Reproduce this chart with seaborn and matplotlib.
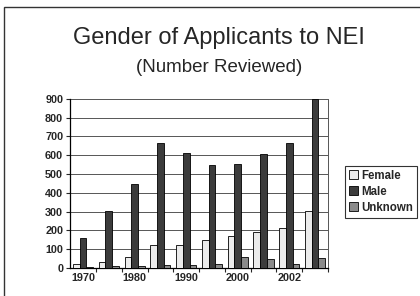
import matplotlib
matplotlib.use("Agg")
import matplotlib.pyplot as plt
import seaborn as sns
import pandas as pd
from matplotlib.patches import Rectangle, Patch

years = ["1970", "1975", "1980", "1985", "1990", "1995", "2000", "2001", "2002", "2003"]
tick_labels = ["1970", "", "1980", "", "1990", "", "2000", "", "2002", ""]
female = [20, 30, 60, 120, 120, 150, 170, 190, 210, 305]
male = [160, 305, 445, 665, 610, 550, 555, 605, 665, 900]
unknown = [5, 10, 10, 15, 15, 20, 60, 45, 20, 50]
series = ["Female", "Male", "Unknown"]
colors = ["#ebebeb", "#3c3c3c", "#8a8a8a"]

rows = []
for i, y in enumerate(years):
    rows.append((y, "Female", female[i]))
    rows.append((y, "Male", male[i]))
    rows.append((y, "Unknown", unknown[i]))
df = pd.DataFrame(rows, columns=["year", "gender", "count"])

sns.set_style("white")
plt.rcParams["font.family"] = ["Liberation Sans", "DejaVu Sans"]

fig = plt.figure(figsize=(4.2, 2.96), dpi=100)
ax = fig.add_axes([0.167, 0.095, 0.614, 0.571])

sns.barplot(data=df, x="year", y="count", hue="gender", hue_order=series,
            palette=colors, width=0.78, edgecolor="black", linewidth=0.6,
            ax=ax, legend=False, zorder=3)

ax.set_ylim(0, 900)
ax.set_xlim(-0.5, len(years) - 0.5)
ax.set_yticks(range(0, 901, 100))
ax.set_yticklabels([str(v) for v in range(0, 901, 100)], fontsize=7.8, fontweight="bold")
ax.set_xticks(range(len(years)))
ax.set_xticklabels(tick_labels, fontsize=7.8, fontweight="bold")
ax.tick_params(axis="x", length=0, pad=4)
ax.tick_params(axis="y", length=3, width=0.8, direction="out", pad=2, left=True)
ax.set_xticks([i + 0.5 for i in range(len(years))], minor=True)
ax.tick_params(axis="x", which="minor", length=3, width=0.8, direction="out", bottom=True)
ax.set_xlabel("")
ax.set_ylabel("")
ax.yaxis.grid(True, color="#555555", linewidth=0.7, zorder=0)
ax.set_axisbelow(True)
for s in ["left", "bottom"]:
    ax.spines[s].set_visible(True)
    ax.spines[s].set_color("black")
    ax.spines[s].set_linewidth(0.9)
ax.spines["right"].set_visible(True)
ax.spines["right"].set_color("#555555")
ax.spines["right"].set_linewidth(0.7)
ax.spines["top"].set_visible(False)

handles = [Patch(facecolor=c, edgecolor="black", linewidth=0.6) for c in colors]
leg = fig.legend(handles, series, loc="upper left", bbox_to_anchor=(0.822, 0.44),
                 frameon=True, fancybox=False, edgecolor="black",
                 prop={"size": 8.3, "weight": "bold"}, handlelength=0.8,
                 handleheight=0.8, handletextpad=0.2, borderpad=0.35,
                 labelspacing=0.35, borderaxespad=0)
leg.get_frame().set_linewidth(0.8)

fig.text(0.522, 0.85, "Gender of Applicants to NEI", ha="center", va="baseline",
         fontsize=17)
fig.text(0.522, 0.758, "(Number Reviewed)", ha="center", va="baseline",
         fontsize=13.5)

fig.patches.append(Rectangle((4 / 420, -0.01), 1.0, 1 - 7 / 296 + 0.01,
                             transform=fig.transFigure, fill=False,
                             edgecolor="#333333", linewidth=1.0))

fig.savefig("out.png", dpi=100)
